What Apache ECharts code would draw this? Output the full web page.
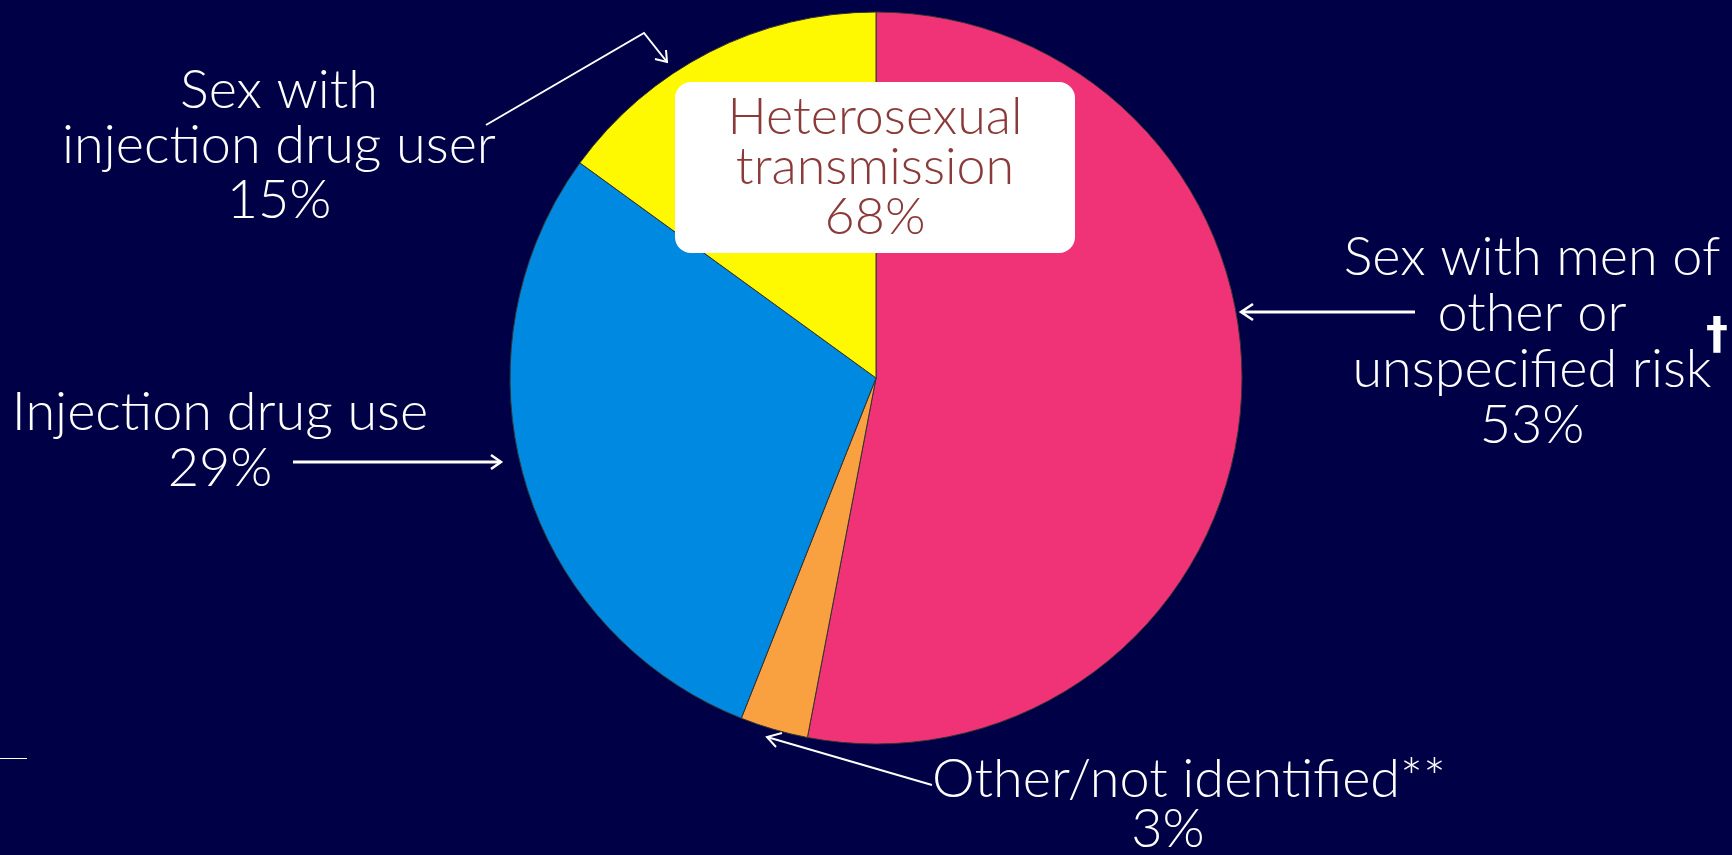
<!DOCTYPE html>
<html>
<head>
<meta charset="utf-8">
<script src="https://cdn.jsdelivr.net/npm/echarts@6/dist/echarts.min.js"></script>
<style>
html,body{margin:0;padding:0;background:#000046;}
#chart{width:1732px;height:855px;}
</style>
</head>
<body>
<div id="chart"></div>
<script>
// ---- data ----
const categories = ['Sex with men of other or unspecified risk', 'Other/not identified**', 'Injection drug use', 'Sex with injection drug user'];
const values = [53, 3, 29, 15];
const labelLines = [
  ['Sex with men of', 'other or', 'unspecified risk'],
  ['Other/not identified**'],
  ['Injection drug use'],
  ['Sex with', 'injection drug user']
];
const footnoteMark = '†';
const groupTitle = ['Heterosexual', 'transmission'];
const groupMembers = [0, 3];
const sliceColors = ['#EF3376', '#F9A040', '#0089E0', '#FFF900'];

const FONT = 'Lato, "Open Sans", sans-serif';
const chart = echarts.init(document.getElementById('chart'), null, {renderer: 'canvas'});

const groupTotal = groupMembers.reduce((s, i) => s + values[i], 0);

function labelText(i) {
  return labelLines[i].join('\n') + '\n' + values[i] + '%';
}

const white = '#ffffff';
function textEl(x, y, text, extra) {
  return {
    type: 'text', x: x, y: y, z: 10,
    style: Object.assign({
      text: text, fill: white, font: '300 54px ' + FONT,
      align: 'center', verticalAlign: 'middle', lineHeight: 57
    }, extra || {})
  };
}
function line(points, w) {
  return { type: 'polyline', z: 9, shape: { points: points }, style: { stroke: white, lineWidth: w, fill: null, lineCap: 'butt', lineJoin: 'miter' } };
}

const graphics = [
  // Heterosexual box
  { type: 'rect', z: 8, shape: { x: 675, y: 82, width: 400, height: 171, r: 16 }, style: { fill: '#ffffff' } },
  textEl(875, 167, groupTitle.join('\n') + '\n' + groupTotal + '%', { fill: '#8B3A3A', font: '300 52px ' + FONT, lineHeight: 50 }),

  // right label
  textEl(1532, 342, labelText(0), { lineHeight: 56 }),
  textEl(1717, 338, footnoteMark, { font: 'bold 44px "DejaVu Sans", sans-serif', lineHeight: 44 }),
  textEl(279, 146, labelText(3), { lineHeight: 55 }),
  textEl(220, 441, labelText(2), { lineHeight: 56 }),
  textEl(1189, 780, labelLines[1][0]),
  textEl(1168, 830, values[1] + '%'),

  // arrows
  line([[1415, 312], [1241, 312]], 3),
  line([[1253, 304], [1241, 312], [1253, 320]], 2.5),
  line([[486, 125], [644, 33], [667, 62]], 2),
  line([[655, 59], [667, 62], [666, 50]], 2),
  line([[293, 462], [501, 462]], 3),
  line([[491, 455], [501, 462], [491, 469]], 2.5),
  line([[932, 785], [767, 737]], 2),
  line([[782, 733], [767, 737], [776, 747]], 2),
  // small line bottom-left
  line([[0, 758.5], [27, 758.5]], 1)
];

chart.setOption({
  backgroundColor: '#000046',
  animation: false,
  series: [{
    type: 'pie',
    center: [876, 378],
    radius: 366,
    startAngle: 90,
    clockwise: true,
    label: { show: false },
    labelLine: { show: false },
    itemStyle: { borderColor: '#333333', borderWidth: 1 },
    emphasis: { disabled: true },
    data: categories.map((c, i) => ({ name: c, value: values[i], itemStyle: { color: sliceColors[i] } }))
  }],
  graphic: graphics
});
</script>
</body>
</html>
